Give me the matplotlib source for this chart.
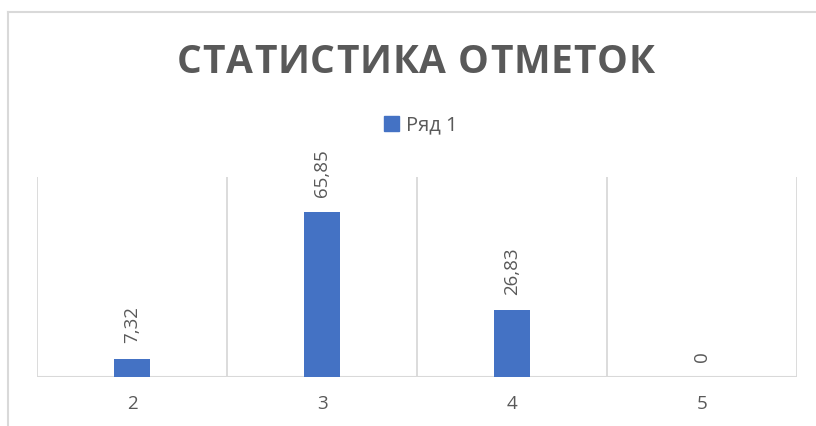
import matplotlib
matplotlib.use("Agg")
import matplotlib.pyplot as plt
from matplotlib.lines import Line2D
from matplotlib.patches import Patch
from matplotlib.font_manager import findfont, FontProperties
from matplotlib.ft2font import FT2Font

categories = ["2", "3", "4", "5"]
values = [7.32, 65.85, 26.83, 0]
value_labels = ["7,32", "65,85", "26,83", "0"]
series_name = "Ряд 1"
title = "СТАТИСТИКА ОТМЕТОК"

BLUE = "#4472C4"
GRAY = "#595959"
GRID = "#D9D9D9"

plt.rcParams['font.family'] = ['Open Sans', 'DejaVu Sans']

DPI = 100
fig = plt.figure(figsize=(8.16, 4.26), dpi=DPI)
W, H = 816, 426
ax = fig.add_axes([37 / W, 1 - 377 / H, 760 / W, 200 / H])

x = list(range(len(categories)))
ax.bar(x, values, width=0.185, color=BLUE, zorder=3)
ax.set_xlim(-0.5, len(categories) - 0.5)
ax.set_ylim(0, 80)

for b in [i - 0.5 for i in range(len(categories) + 1)]:
    ax.axvline(b, color=GRID, lw=1.3, zorder=1)
ax.axhline(0, color=GRID, lw=1.5, zorder=2)

for xi, v, lab in zip(x, values, value_labels):
    ax.annotate(lab, (xi, v), xytext=(0, 11), textcoords="offset points",
                rotation=90, ha="center", va="bottom", color=GRAY, fontsize=13.5)

for s in ax.spines.values():
    s.set_visible(False)
ax.set_yticks([])
ax.set_xticks(x)
ax.set_xticklabels(categories, color=GRAY, fontsize=13.5)
ax.tick_params(axis="x", length=0, pad=13)

# Title with letter spacing (tracking), placed character by character
TS = 28
fp = FontProperties(family='Open Sans', weight='bold', size=TS)
ft = FT2Font(findfont(fp))
ft.set_size(TS, DPI)
advs = []
for c in title:
    g = ft.load_char(ord(c))
    advs.append(g.linearHoriAdvance / 65536.0)
natural = sum(advs)
target_left, target_right = 177, 655
track = ((target_right - target_left) - natural) / (len(title) - 1)
xpos = target_left
for c, a in zip(title, advs):
    if c != " ":
        fig.text(xpos / W, 1 - 73 / H, c, ha="left", va="baseline",
                 fontsize=TS, fontweight="bold", color=GRAY, fontfamily="Open Sans")
    xpos += a + track

fig.legend(handles=[Patch(color=BLUE, label=series_name)], loc="center",
           bbox_to_anchor=(421 / W, 1 - 125.5 / H), frameon=False,
           handlelength=0.75, handleheight=0.75, handletextpad=0.35,
           fontsize=14.5, labelcolor=GRAY)

fig.add_artist(Line2D([7.5 / W, 1], [1 - 11.5 / H, 1 - 11.5 / H], color=GRID, lw=1.5))
fig.add_artist(Line2D([7.5 / W, 7.5 / W], [0, 1 - 11.5 / H], color=GRID, lw=1.5))

fig.savefig("out.png", dpi=DPI)
